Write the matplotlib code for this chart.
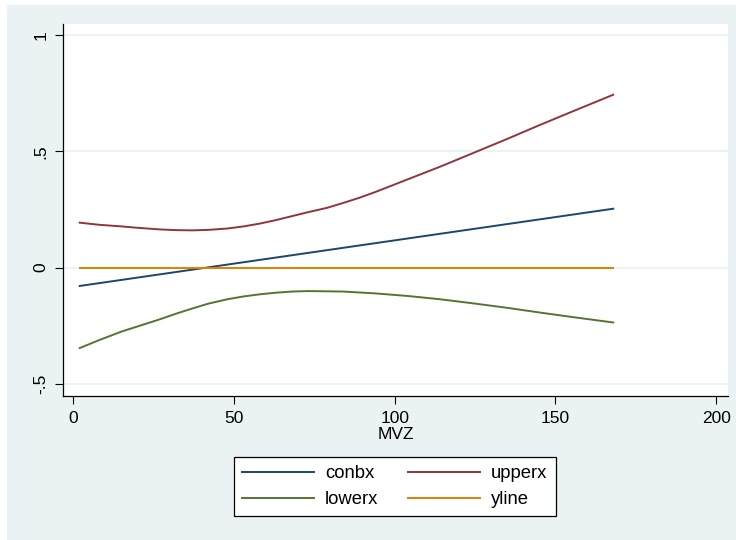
import matplotlib.pyplot as plt
from matplotlib.patches import Rectangle

plt.rcParams['font.family'] = ['Liberation Sans', 'DejaVu Sans']

# marginal effect of MVZ with its confidence bounds
mvz = [2, 8, 15, 20, 27, 32, 37, 42, 48, 53, 58, 63, 68, 73, 79, 84, 89, 94,
       104, 114, 124, 135, 145, 156, 168]
conbx = [-0.079, -0.067, -0.053, -0.043, -0.029, -0.019, -0.009, 0.001,
         0.013, 0.023, 0.033, 0.043, 0.053, 0.063, 0.075, 0.085, 0.095,
         0.105, 0.125, 0.145, 0.165, 0.187, 0.207, 0.229, 0.253]
upperx = [0.193, 0.184, 0.177, 0.171, 0.164, 0.161, 0.160, 0.162, 0.168,
          0.177, 0.189, 0.204, 0.221, 0.238, 0.257, 0.278, 0.300, 0.325,
          0.379, 0.433, 0.490, 0.553, 0.612, 0.675, 0.743]
lowerx = [-0.346, -0.312, -0.275, -0.253, -0.222, -0.198, -0.176, -0.155,
          -0.136, -0.124, -0.115, -0.108, -0.103, -0.101, -0.102, -0.103,
          -0.107, -0.111, -0.122, -0.136, -0.153, -0.173, -0.193, -0.214,
          -0.236]
yline = [0.0] * len(mvz)

xticks = [0, 50, 100, 150, 200]
yticks = [-0.5, 0, 0.5, 1]
yticklabels = ['-.5', '0', '.5', '1']

bg = '#EAF2F3'
navy = '#1A476F'
maroon = '#90353B'
green = '#55752F'
orange = '#E37E00'

fig = plt.figure(figsize=(7.36, 5.4), dpi=100)
fig.patch.set_facecolor('white')
fig.add_artist(Rectangle((7 / 736, 0), 729 / 736, 535 / 540,
                         transform=fig.transFigure, facecolor=bg,
                         edgecolor='none', zorder=-10))

ax = fig.add_axes([63 / 736, 1 - 396 / 540, 665 / 736, 372 / 540])
ax.set_facecolor('white')

lw = 1.4
l_con, = ax.plot(mvz, conbx, color=navy, lw=lw, label='conbx')
l_up, = ax.plot(mvz, upperx, color=maroon, lw=lw, label='upperx')
l_low, = ax.plot(mvz, lowerx, color=green, lw=lw, label='lowerx')
l_y, = ax.plot(mvz, yline, color=orange, lw=lw, label='yline')

ax.set_xlim(-3.2, 203.7)
ax.set_ylim(-0.552, 1.047)
ax.set_xticks(xticks)
ax.set_yticks(yticks)
ax.set_yticklabels(yticklabels, rotation=90, va='center')
ax.tick_params(axis='both', direction='out', length=5.5, width=0.8,
               labelsize=12.5, color='black')
ax.tick_params(axis='x', pad=5)
ax.tick_params(axis='y', pad=5)

ax.grid(axis='y', color=bg, lw=1.3, zorder=0)
ax.set_axisbelow(True)
for side in ('top', 'right'):
    ax.spines[side].set_visible(False)
for side in ('left', 'bottom'):
    ax.spines[side].set_linewidth(0.9)

ax.set_xlabel('MVZ', fontsize=12.5, labelpad=1)

# legend fills column by column, so list the handles to get rows
# conbx/upperx and lowerx/yline
handles = [l_con, l_low, l_up, l_y]
leg = ax.legend(handles, [h.get_label() for h in handles], ncol=2,
                loc='center', bbox_to_anchor=(395 / 736, 1 - 486.7 / 540),
                bbox_transform=fig.transFigure, fontsize=13.3, frameon=True,
                fancybox=False, edgecolor='black', framealpha=1,
                handlelength=3.85, handletextpad=0.63, columnspacing=1.62,
                labelspacing=0.47, borderpad=0.45)
leg.get_frame().set_linewidth(0.9)

fig.savefig('out.png', dpi=100, facecolor=fig.get_facecolor())
